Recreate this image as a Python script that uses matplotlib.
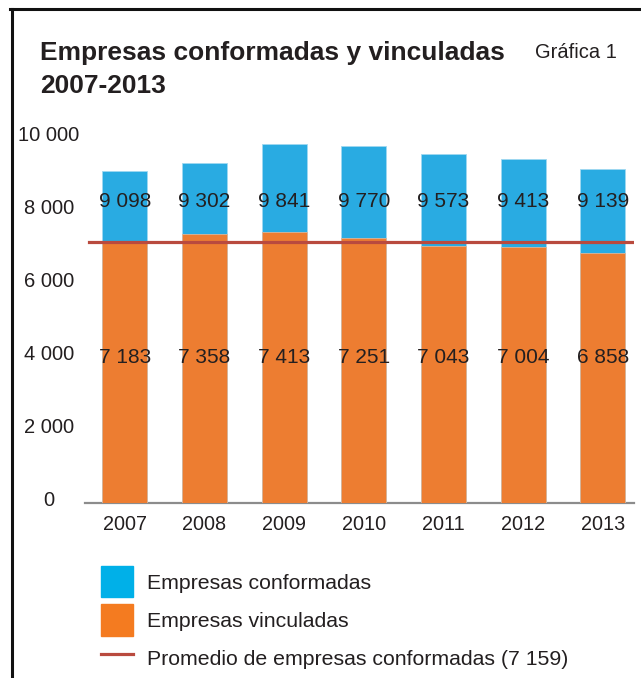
import numpy as np
import matplotlib.pyplot as plt
import matplotlib.transforms as mtransforms
from matplotlib.patches import Patch
from matplotlib.lines import Line2D

years = ["2007", "2008", "2009", "2010", "2011", "2012", "2013"]
conformadas = [9098, 9302, 9841, 9770, 9573, 9413, 9139]
vinculadas = [7183, 7358, 7413, 7251, 7043, 7004, 6858]
promedio = 7159
yticks = [0, 2000, 4000, 6000, 8000, 10000]

BLUE = "#29abe2"
ORANGE = "#ed7d31"
RED = "#b94a3e"
TXT = "#231f20"


def fmt(v):
    # thousands with a space, like the original
    return f"{v:,}".replace(",", " ")


def main():
    plt.rcParams["font.family"] = ["Liberation Sans", "DejaVu Sans"]
    W, H = 641, 678
    fig = plt.figure(figsize=(W / 100, H / 100), dpi=100)
    ax = fig.add_axes([85 / W, 1 - 503 / H, 549 / W, 365 / H])

    x = np.arange(len(years))
    ax.bar(x, conformadas, width=0.565, color=BLUE, edgecolor="#9fd8f0", linewidth=0.6, zorder=2)
    ax.bar(x, vinculadas, width=0.565, color=ORANGE, edgecolor="#d9b79c", linewidth=0.6, zorder=3)
    ax.axhline(promedio, xmin=0.008, xmax=0.998, color=RED, lw=2.3, zorder=4)

    # labels sit at fixed heights in the original
    for xi, c, v in zip(x, conformadas, vinculadas):
        ax.text(xi, 8250, fmt(c), ha="center", va="center", fontsize=15, color=TXT, zorder=5)
        ax.text(xi, 3980, fmt(v), ha="center", va="center", fontsize=15, color=TXT, zorder=5)

    ax.set_xlim(-0.5, 6.39)
    ax.set_ylim(0, 10000)
    ax.set_xticks(x, years)
    ax.set_yticks(yticks, [fmt(t) for t in yticks])
    ax.tick_params(axis="x", length=0, pad=9, labelsize=14.3, labelcolor=TXT)
    ax.tick_params(axis="y", length=0, pad=26, labelsize=14.5, labelcolor=TXT)
    shift = mtransforms.ScaledTranslation(0, 4 / 100, fig.dpi_scale_trans)
    for lbl in ax.get_yticklabels():
        lbl.set_ha("center")
        lbl.set_transform(lbl.get_transform() + shift)
    for s in ["top", "right", "left"]:
        ax.spines[s].set_visible(False)
    ax.spines["bottom"].set_color("#8c8c8c")
    ax.spines["bottom"].set_linewidth(1.6)

    fig.text(40 / W, 1 - 53 / H, "Empresas conformadas y vinculadas", fontsize=19,
             fontweight="bold", color=TXT, va="center")
    fig.text(40 / W, 1 - 86 / H, "2007-2013", fontsize=19, fontweight="bold", color=TXT, va="center")
    fig.text(535 / W, 1 - 53 / H, "Gráfica 1", fontsize=14.5, color=TXT, va="center")

    handles = [Patch(color="#00b0e8"), Patch(color="#f47b20"), Line2D([], [], color=RED, lw=2.3)]
    labels = ["Empresas conformadas", "Empresas vinculadas",
              "Promedio de empresas conformadas (7 159)"]
    fig.legend(handles, labels, loc="upper left", bbox_to_anchor=(101 / W, 1 - 566 / H),
               frameon=False, fontsize=15.3, handlelength=1.5, handleheight=1.9,
               handletextpad=0.65, labelspacing=0.33, borderpad=0, borderaxespad=0,
               labelcolor=TXT)

    # page frame (left and top edges visible)
    fig.add_artist(Line2D([11.5 / W, 11.5 / W], [0, 1 - 9 / H], color="#111111", lw=2.2))
    fig.add_artist(Line2D([10 / W, 1], [1 - 9 / H, 1 - 9 / H], color="#111111", lw=2.2))

    fig.savefig("out.png", dpi=100)


if __name__ == "__main__":
    main()
